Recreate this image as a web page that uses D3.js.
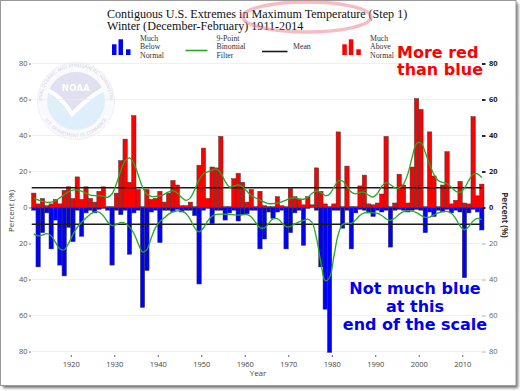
<!DOCTYPE html>
<html>
<head>
<meta charset="utf-8">
<script src="https://cdn.jsdelivr.net/npm/d3@7"></script>
<style>
body { margin: 0; background: #fff; }
svg { display: block; }
</style>
</head>
<body>
<script>
// Values (percent of the country, winter max temperature).
var firstYear = 1911,
  lastYear = 2014;
var years = d3.range(firstYear, lastYear + 1);

var muchAbove = [
  8, 2, 5, 1, 2, 4.5, 2, 9.5, 11.5, 5,
  17, 4.5, 11.5, 5, 3, 9, 11.5, 0.5, 0.5, 8,
  26, 38, 14, 51, 10, 0.5, 10, 4.5, 5, 9,
  3, 8, 15, 12.5, 1, 1, 3, 0.5, 23.5, 33,
  5, 22.5, 22, 39.5, 0.5, 0.5, 16, 19, 14, 3,
  10, 0.5, 9, 1, 0.5, 0.5, 6, 1, 0.5, 10.5,
  6, 4.5, 1.5, 6, 1.5, 22, 9, 2, 0.5, 2,
  42, 0.5, 23, 0.5, 0.5, 12, 18, 2, 1.5, 2.5,
  7.5, 39.5, 0.5, 2.5, 18.5, 12.5, 2.5, 22.5, 60.5, 54.5,
  0.5, 42, 17.5, 0.5, 12.5, 31, 2, 4, 14.5, 2.5,
  2, 50.5, 6.5, 13
];

var muchBelow = [
  1.5, 33, 14, 3, 23, 7, 32, 38, 11, 19,
  1.5, 16, 3, 1.5, 3, 1, 0.5, 1.5, 32, 1.5,
  4, 1.5, 26, 3, 1.5, 55.5, 35, 2.5, 1.5, 19.5,
  1.5, 1.5, 2.5, 1, 2.5, 1.5, 1.5, 4.5, 42.5, 1.5,
  0.5, 9, 1.5, 1.5, 7, 3, 1.5, 7.5, 4, 3.5,
  1.5, 1.5, 23, 17.5, 2.5, 6, 2.5, 1.5, 23, 14,
  3, 1.5, 21, 0.5, 0, 1.5, 33, 56.5, 80.5, 1.5,
  1.5, 11.5, 1.5, 23, 3, 1, 1.5, 3, 5, 1.5,
  2.5, 1.5, 22, 1.5, 1, 1.5, 2.5, 1.5, 1, 1.5,
  14, 2.5, 5, 1.5, 2.5, 1, 3, 1.5, 2.5, 39,
  3, 1, 2.5, 12.5
];

var meanAbove = 11,
  meanBelow = 9.3;

var yTicks = [-80, -60, -40, -20, 0, 20, 40, 60, 80];
var xTicks = [1920, 1930, 1940, 1950, 1960, 1970, 1980, 1990, 2000, 2010];
var binomialWeights = [1, 8, 28, 56, 70, 56, 28, 8, 1];

var width = 520,
  height = 391;

var svg = d3.select("body").append("svg")
  .attr("width", width)
  .attr("height", height);

// Picture frame with a drop shadow.
var defs = svg.append("defs");
defs.append("filter").attr("id", "shadow")
  .attr("x", "-5%").attr("y", "-5%").attr("width", "110%").attr("height", "110%")
  .append("feGaussianBlur").attr("stdDeviation", 1.6);

svg.append("rect")
  .attr("x", 3).attr("y", 3)
  .attr("width", 515).attr("height", 385)
  .attr("fill", "#6f6f6f")
  .attr("filter", "url(#shadow)");
svg.append("rect")
  .attr("x", 0.5).attr("y", 0.5)
  .attr("width", 515.5).attr("height", 385)
  .attr("fill", "#fff")
  .attr("stroke", "#9a9a9a");

// Scales.
var x = d3.scaleLinear().domain([firstYear, lastYear + 1]).range([31.6, 484]),
  y = d3.scaleLinear().domain([-80, 80]).range([351.5, 63.5]),
  barWidth = x(firstYear + 1) - x(firstYear);

// NOAA watermark.
var logo = svg.append("g")
  .attr("transform", "translate(76,101)")
  .style("opacity", 0.8);
logo.append("circle").attr("r", 38.5)
  .attr("fill", "#f9f9fc").attr("stroke", "#e6e6ef").attr("stroke-width", 0.8);
defs.append("clipPath").attr("id", "logoClip")
  .append("circle").attr("r", 29);
var inner = logo.append("g").attr("clip-path", "url(#logoClip)");
inner.append("rect").attr("x", -30).attr("y", -30).attr("width", 60).attr("height", 60)
  .attr("fill", "#d8ecfa");
inner.append("path")
  .attr("d", "M-30,-30L30,-30L30,-14C18,-9 6,2 -3,10C-10,1 -19,-9 -30,-13Z")
  .attr("fill", "#d9d9ed");
inner.append("path")
  .attr("d", "M-30,-12C-19,-7 -10,3 -4,13C6,3 18,-8 30,-13")
  .attr("fill", "none").attr("stroke", "#fff").attr("stroke-width", 4);
logo.append("text")
  .attr("y", -10.5)
  .attr("text-anchor", "middle")
  .style("font-family", "DejaVu Sans")
  .style("font-weight", "bold")
  .style("font-size", "8.5px")
  .style("letter-spacing", "0.3px")
  .attr("fill", "#fff")
  .text("NOAA");
defs.append("path").attr("id", "ringTop")
  .attr("d", "M-34,0A34,34 0 0,1 34,0");
defs.append("path").attr("id", "ringBottom")
  .attr("d", "M-36,0A36,36 0 0,0 36,0");
logo.append("text")
  .style("font-family", "DejaVu Sans").style("font-size", "4.4px")
  .attr("fill", "#c8c8dc")
  .append("textPath").attr("href", "#ringTop")
  .attr("startOffset", "50%").attr("text-anchor", "middle")
  .text("NATIONAL OCEANIC AND ATMOSPHERIC ADMINISTRATION");
logo.append("text")
  .style("font-family", "DejaVu Sans").style("font-size", "4.4px")
  .attr("fill", "#c8c8dc")
  .append("textPath").attr("href", "#ringBottom")
  .attr("startOffset", "50%").attr("text-anchor", "middle")
  .text("U.S. DEPARTMENT OF COMMERCE");

// Gridlines.
svg.append("g").selectAll("line")
  .data(yTicks)
  .join("line")
  .attr("x1", 31.5).attr("x2", 481)
  .attr("y1", function(d) { return y(d); })
  .attr("y2", function(d) { return y(d); })
  .attr("stroke", "#ececec")
  .attr("stroke-width", 0.8);

// Bars.
svg.append("g").selectAll("rect")
  .data(years)
  .join("rect")
  .attr("x", function(d) { return x(d); })
  .attr("width", barWidth)
  .attr("y", function(d, i) { return y(muchAbove[i]); })
  .attr("height", function(d, i) { return y(0) - y(muchAbove[i]); })
  .attr("fill", "#ff0000")
  .attr("stroke", "#3a3a3a")
  .attr("stroke-width", 0.5);

svg.append("g").selectAll("rect")
  .data(years)
  .join("rect")
  .attr("x", function(d) { return x(d); })
  .attr("width", barWidth)
  .attr("y", y(0))
  .attr("height", function(d, i) { return y(-muchBelow[i]) - y(0); })
  .attr("fill", "#0000ff")
  .attr("stroke", "#3a3a3a")
  .attr("stroke-width", 0.5);

// Mean lines.
[meanAbove, -meanBelow].forEach(function(m) {
  svg.append("line")
    .attr("x1", 31.7).attr("x2", 482)
    .attr("y1", y(m)).attr("y2", y(m))
    .attr("stroke", "#1a1a1a")
    .attr("stroke-width", 1.4);
});

// 9-point binomial filter, weights renormalised at the ends.
function binomialFilter(values) {
  var half = (binomialWeights.length - 1) / 2;
  return values.map(function(v, i) {
    var sum = 0, wsum = 0;
    binomialWeights.forEach(function(w, k) {
      var j = i + k - half;
      if (j >= 0 && j < values.length) {
        sum += w * values[j];
        wsum += w;
      }
    });
    return sum / wsum;
  });
}

var filterLine = d3.line()
  .x(function(d, i) { return x(years[i]) + barWidth / 2; })
  .y(function(d) { return y(d); })
  .curve(d3.curveCatmullRom);

svg.append("path")
  .attr("d", filterLine(binomialFilter(muchAbove)))
  .attr("fill", "none").attr("stroke", "#25a825").attr("stroke-width", 1.3);
svg.append("path")
  .attr("d", filterLine(binomialFilter(muchBelow).map(function(v) { return -v; })))
  .attr("fill", "none").attr("stroke", "#25a825").attr("stroke-width", 1.3);

// Axes.
var tickFont = "Open Sans";
var leftAxis = svg.append("g")
  .attr("transform", "translate(31,0)")
  .call(d3.axisLeft(y).tickValues(yTicks).tickSize(2).tickPadding(1.5)
    .tickFormat(function(d) { return Math.abs(d); }));
leftAxis.select(".domain").remove();
leftAxis.selectAll("line").attr("stroke", "#777");
leftAxis.selectAll("text").attr("fill", "#555")
  .style("font-family", tickFont).style("font-size", "7.5px");

var rightAxis = svg.append("g")
  .attr("transform", "translate(482,0)")
  .call(d3.axisRight(y).tickValues(yTicks).tickSize(3.5).tickPadding(3.5)
    .tickFormat(function(d) { return Math.abs(d); }));
rightAxis.select(".domain").remove();
rightAxis.selectAll(".tick line")
  .attr("stroke", function(d) { return d >= 0 ? "#111" : "#999"; })
  .attr("stroke-width", function(d) { return d >= 0 ? 1.8 : 0.8; });
rightAxis.selectAll("text")
  .attr("fill", function(d) { return d >= 0 ? "#222" : "#666"; })
  .style("font-weight", function(d) { return d >= 0 ? "bold" : "normal"; })
  .style("font-family", tickFont).style("font-size", "7.5px");

var bottomAxis = svg.append("g")
  .attr("transform", "translate(0,355)")
  .call(d3.axisBottom(x).tickValues(xTicks).tickSize(2).tickPadding(4.5)
    .tickFormat(d3.format("d")));
bottomAxis.select(".domain").remove();
bottomAxis.selectAll("line").attr("stroke", "#666");
bottomAxis.selectAll("text").attr("fill", "#444")
  .style("font-family", tickFont).style("font-size", "7.5px");

// Axis titles.
svg.append("text")
  .attr("transform", "translate(14,211) rotate(-90)")
  .attr("text-anchor", "middle")
  .style("font-family", tickFont).style("font-size", "8px")
  .attr("fill", "#444")
  .text("Percent (%)");
svg.append("text")
  .attr("transform", "translate(502,215) rotate(90)")
  .attr("text-anchor", "middle")
  .style("font-family", tickFont).style("font-size", "8px")
  .style("font-weight", "bold")
  .attr("fill", "#333")
  .text("Percent (%)");
svg.append("text")
  .attr("x", 258).attr("y", 376)
  .attr("text-anchor", "middle")
  .style("font-family", tickFont).style("font-size", "8px")
  .attr("fill", "#444")
  .text("Year");

// Title.
var serif = "Liberation Serif";
svg.append("text")
  .attr("x", 107).attr("y", 17.5)
  .style("font-family", serif).style("font-size", "12.1px")
  .attr("fill", "#111")
  .text("Contiguous U.S. Extremes in Maximum Temperature (Step 1)");
svg.append("text")
  .attr("x", 107).attr("y", 29.5)
  .style("font-family", serif).style("font-size", "12.1px")
  .attr("fill", "#111")
  .text("Winter (December-February) 1911-2014");

svg.append("ellipse")
  .attr("cx", 307).attr("cy", 17)
  .attr("rx", 64).attr("ry", 15)
  .attr("fill", "none")
  .attr("stroke", "#f07a86")
  .attr("stroke-opacity", 0.5)
  .attr("stroke-width", 3.5);

// Legend.
function legendText(x0, lines) {
  var t = svg.append("text")
    .style("font-family", serif).style("font-size", "7.8px")
    .attr("fill", "#333");
  lines.forEach(function(s, i) {
    t.append("tspan").attr("x", x0).attr("y", 40.5 + i * 8.8).text(s);
  });
}
function legendBars(x0, color) {
  [[0, 44.3], [6.5, 39.3], [14, 49.3]].forEach(function(b) {
    svg.append("rect")
      .attr("x", x0 + b[0]).attr("y", b[1])
      .attr("width", 4.5).attr("height", 55 - b[1])
      .attr("fill", color);
  });
}
legendBars(112, "#0000ff");
legendText(140, ["Much", "Below", "Normal"]);
svg.append("line")
  .attr("x1", 185.5).attr("x2", 207.5).attr("y1", 50.5).attr("y2", 50.5)
  .attr("stroke", "#25a825").attr("stroke-width", 1.6);
legendText(216.5, ["9-Point", "Binomial", "Filter"]);
svg.append("line")
  .attr("x1", 262).attr("x2", 287.5).attr("y1", 51.5).attr("y2", 51.5)
  .attr("stroke", "#1a1a1a").attr("stroke-width", 1.6);
svg.append("text")
  .attr("x", 293).attr("y", 49.3)
  .style("font-family", serif).style("font-size", "7.8px")
  .attr("fill", "#333")
  .text("Mean");
legendBars(342.3, "#ff0000");
legendText(370, ["Much", "Above", "Normal"]);

// Annotations.
var note = "DejaVu Sans";
[["More red", 58], ["than blue", 74.5]].forEach(function(l) {
  svg.append("text")
    .attr("x", 397).attr("y", l[1])
    .style("font-family", note).style("font-weight", "bold").style("font-size", "16px")
    .attr("fill", "#ff0000")
    .text(l[0]);
});
[["Not much blue", 294], ["at this", 312], ["end of the scale", 330]].forEach(function(l) {
  svg.append("text")
    .attr("x", 415).attr("y", l[1])
    .attr("text-anchor", "middle")
    .style("font-family", note).style("font-weight", "bold").style("font-size", "16px")
    .attr("fill", "#0000ee")
    .text(l[0]);
});
</script>
</body>
</html>
